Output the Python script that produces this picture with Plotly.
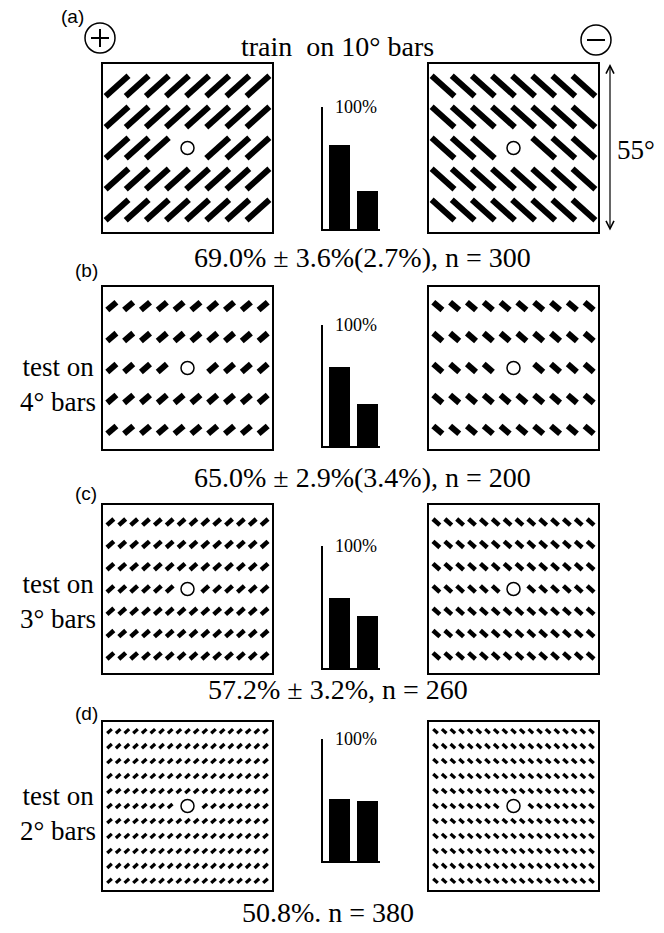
import math
import plotly.graph_objects as go

W, H = 664, 933

# ---------------- data ----------------
panel_labels = ["(a)", "(b)", "(c)", "(d)"]
field_deg = 55                      # side of each stimulus field, degrees
bar_len_deg = [10, 4, 3, 2]         # bar length per panel, degrees
grid_rows = [5, 5, 7, 11]
grid_cols = [8, 10, 14, 19]
gap_cols = [2, 2, 2, 3]             # bars left out around the fixation circle
orientation_deg = [42, 138]         # "+" field, "−" field
choice_categories = ["+", "−"]
pct_plus = [69.0, 65.0, 57.2, 50.8]
pct_minus = [31.0, 35.0, 42.8, 49.2]
result_text = ["69.0% ± 3.6%(2.7%), n = 300",
               "65.0% ± 2.9%(3.4%), n = 200",
               "57.2% ± 3.2%, n = 260",
               "50.8%. n = 380"]
side_text = ["", "test on<br>4° bars", "test on<br>3° bars", "test on<br>2° bars"]
title_text = "train\u00a0 on 10° bars"
field_text = "55°"
hist_top_label = "100%"

# ---------------- layout constants (pixels) ----------------
BOX_X = [(103, 272), (429, 598)]
BOX_Y = [(64, 232), (287, 449), (505, 673), (722, 890)]
HIST_X = (323, 380)
HIST_Y = [(107, 229), (325, 446), (546, 668), (739, 861)]
SPACING = [(6.55, 10.15), (5.47, 10.5), (3.86, 7.3), (2.82, 4.9)]
THICK = [6.0, 6.0, 4.5, 3.3]
SERIF = "Liberation Serif"
SANS = "Liberation Sans"
FS = 28


def dom_x(a, b):
    return [a / W, b / W]


def dom_y(top, bottom):
    return [1 - bottom / H, 1 - top / H]


fig = go.Figure()
layout = {}
ann = []
ax_id = 0

for p in range(4):
    # ---- stimulus fields ----
    for side in range(2):
        ax_id += 1
        xa = "xaxis" if ax_id == 1 else f"xaxis{ax_id}"
        ya = "yaxis" if ax_id == 1 else f"yaxis{ax_id}"
        xr = "x" if ax_id == 1 else f"x{ax_id}"
        yr = "y" if ax_id == 1 else f"y{ax_id}"
        frame = dict(showline=True, mirror=True, linecolor="black", linewidth=1.5,
                     showgrid=False, zeroline=False, showticklabels=False, ticks="",
                     range=[0, field_deg], fixedrange=True)
        layout[xa] = dict(frame, domain=dom_x(*BOX_X[side]), anchor=yr)
        layout[ya] = dict(frame, domain=dom_y(*BOX_Y[p]), anchor=xr)

        th = math.radians(orientation_deg[side])
        L = bar_len_deg[p]
        dx, dy = SPACING[p]
        nr, nc = grid_rows[p], grid_cols[p]
        c0 = field_deg / 2
        xs, ys = [], []
        mid = (nr - 1) // 2
        g = gap_cols[p]
        skip_lo = (nc - g) // 2
        hx, hy = L / 2 * math.cos(th), L / 2 * math.sin(th)
        for r in range(nr):
            cy = c0 + (mid - r) * dy
            for c in range(nc):
                if r == mid and skip_lo <= c < skip_lo + g:
                    continue
                cx = c0 + (c - (nc - 1) / 2) * dx
                xs += [cx - hx, cx + hx, None]
                ys += [cy - hy, cy + hy, None]
        fig.add_trace(go.Scatter(x=xs, y=ys, mode="lines", xaxis=xr, yaxis=yr,
                                 line=dict(color="black", width=THICK[p]),
                                 hoverinfo="skip", showlegend=False))
        fig.add_trace(go.Scatter(x=[c0], y=[c0], mode="markers", xaxis=xr, yaxis=yr,
                                 marker=dict(symbol="circle", size=13, color="white",
                                             line=dict(color="black", width=1.5)),
                                 hoverinfo="skip", showlegend=False))

    # ---- choice histogram ----
    ax_id += 1
    xa, ya = f"xaxis{ax_id}", f"yaxis{ax_id}"
    xr, yr = f"x{ax_id}", f"y{ax_id}"
    layout[xa] = dict(domain=dom_x(*HIST_X), anchor=yr, range=[-0.6, 1.45],
                      showline=True, linecolor="black", linewidth=1.5, showgrid=False,
                      zeroline=False, showticklabels=False, ticks="", fixedrange=True,
                      type="linear")
    layout[ya] = dict(domain=dom_y(*HIST_Y[p]), anchor=xr, range=[0, 100],
                      showline=True, linecolor="black", linewidth=1.5, showgrid=False,
                      zeroline=False, tickvals=[100], showticklabels=False,
                      ticks="inside", ticklen=6, tickwidth=1.5, tickcolor="black",
                      fixedrange=True)
    fig.add_trace(go.Bar(x=[0, 1], y=[pct_plus[p], pct_minus[p]], width=0.74,
                         xaxis=xr, yaxis=yr, marker=dict(color="black", line=dict(width=0)),
                         hovertext=choice_categories, showlegend=False))
    ann.append(dict(text=hist_top_label, x=0, y=100, xref=f"{xr} domain", yref=yr,
                    xshift=10, showarrow=False, xanchor="left", yanchor="middle",
                    font=dict(family=SERIF, size=18, color="black")))


# ---------------- annotations ----------------
def text(s, x, y, size, family=SERIF, xanchor="center"):
    ann.append(dict(text=s, x=x / W, y=1 - y / H, xref="paper", yref="paper",
                    showarrow=False, xanchor=xanchor, yanchor="middle",
                    font=dict(family=family, size=size, color="black")))


LABEL_POS = [(72, 16), (86, 270), (86, 493), (86, 713)]
RESULT_POS = [(362, 257), (362, 478), (338, 689), (328, 912)]
SIDE_POS = [None, (58, 384), (58, 601), (58, 813)]
for p in range(4):
    text(panel_labels[p], *LABEL_POS[p], 19, SANS)
    text(result_text[p], *RESULT_POS[p], FS)
    if side_text[p]:
        text(side_text[p], *SIDE_POS[p], FS - 1)
text(title_text, 337, 46, FS)
text(field_text, 636, 150, 27)

# double-headed arrow for field size
ann.append(dict(x=610 / W, y=1 - 64 / H, xref="paper", yref="paper", text="",
                showarrow=True, ax=0, ay=BOX_Y[0][1] - BOX_Y[0][0], axref="pixel",
                ayref="pixel", arrowside="end+start", arrowhead=5, arrowsize=1.3,
                arrowwidth=1.2, arrowcolor="black", standoff=0, startstandoff=0))

# plus / minus symbols
shapes = []
R = 15
for (cx, cy), sym in [((100, 38), "+"), ((596, 40), "−")]:
    shapes.append(dict(type="circle", xref="paper", yref="paper",
                       x0=(cx - R) / W, x1=(cx + R) / W,
                       y0=1 - (cy + R) / H, y1=1 - (cy - R) / H,
                       line=dict(color="black", width=1.5)))
    shapes.append(dict(type="line", xref="paper", yref="paper",
                       x0=(cx - 9) / W, x1=(cx + 9) / W, y0=1 - cy / H, y1=1 - cy / H,
                       line=dict(color="black", width=2)))
    if sym == "+":
        shapes.append(dict(type="line", xref="paper", yref="paper",
                           x0=cx / W, x1=cx / W, y0=1 - (cy + 9) / H, y1=1 - (cy - 9) / H,
                           line=dict(color="black", width=2)))

fig.update_layout(width=W, height=H, autosize=False,
                  margin=dict(l=0, r=0, t=0, b=0, pad=0),
                  paper_bgcolor="white", plot_bgcolor="rgba(0,0,0,0)",
                  showlegend=False, bargap=0, annotations=ann, shapes=shapes,
                  **layout)

fig.write_html("out.html", config={"displayModeBar": False},
               post_script="document.body.style.margin='0px';")
